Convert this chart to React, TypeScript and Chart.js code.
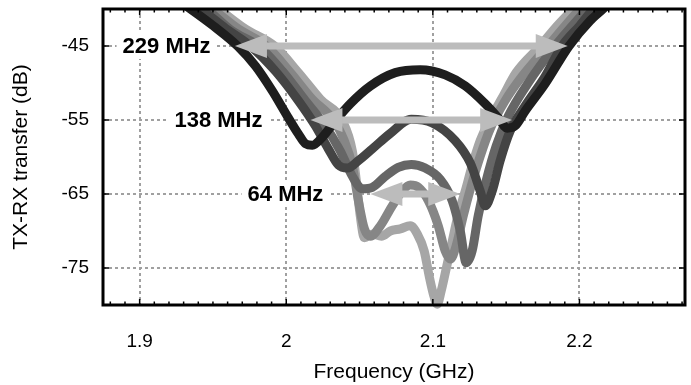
import React, { useEffect, useRef } from 'react';
import { Chart, registerables } from 'chart.js';

Chart.register(...registerables);

// Axes
const xMin = 1.875;
const xMax = 2.272;
const yMin = -80;
const yMax = -40;
const xTicks = [1.9, 2.0, 2.1, 2.2];
const yTicks = [-45, -55, -65, -75];

// Series (frequency GHz, transfer dB)
const series1: [number, number][] = [
  [1.9266, -38.9], [1.9347, -40.0], [1.9504, -42.3], [1.9668, -45.0], [1.979, -47.7],
  [1.9906, -51.1], [2.0008, -54.5], [2.0083, -56.9], [2.0131, -58.2], [2.0178, -58.4],
  [2.0247, -57.3], [2.0335, -55.1], [2.0437, -52.8], [2.0574, -50.4], [2.0744, -48.6],
  [2.0914, -48.2], [2.1084, -48.9], [2.1221, -50.4], [2.1357, -52.8], [2.1446, -54.7],
  [2.1507, -56.1], [2.1561, -55.8], [2.1629, -53.8], [2.1766, -50.1], [2.1929, -45.0],
  [2.2072, -41.6], [2.2161, -40.0], [2.2222, -38.9],
];
const series2: [number, number][] = [
  [1.9334, -38.9], [1.9416, -40.0], [1.9586, -42.6], [1.9756, -45.0], [1.9926, -48.4],
  [2.0083, -52.4], [2.0199, -55.8], [2.0287, -58.9], [2.0356, -61.1], [2.0417, -61.5],
  [2.0492, -60.5], [2.0587, -58.9], [2.071, -56.8], [2.0853, -54.9], [2.0996, -55.4],
  [2.1153, -57.8], [2.1255, -60.8], [2.1323, -64.6], [2.1357, -66.6], [2.1405, -64.6],
  [2.1459, -60.5], [2.1527, -56.5], [2.1629, -53.1], [2.1766, -49.1], [2.1881, -45.0],
  [2.2004, -42.2], [2.2093, -40.0], [2.214, -38.9],
];
const series3: [number, number][] = [
  [1.9375, -38.9], [1.9456, -40.0], [1.9634, -43.0], [1.9811, -45.0], [1.9974, -48.4],
  [2.0131, -52.4], [2.0267, -55.8], [2.0369, -59.2], [2.0451, -62.6], [2.0519, -64.3],
  [2.0587, -64.1], [2.0676, -62.6], [2.0764, -61.4], [2.0853, -61.0], [2.0948, -61.5],
  [2.105, -63.0], [2.1132, -65.9], [2.1187, -70.0], [2.1228, -74.3], [2.1268, -72.7],
  [2.1309, -68.0], [2.1364, -63.2], [2.1432, -58.5], [2.1514, -54.5], [2.165, -50.0],
  [2.1834, -45.0], [2.195, -42.3], [2.2052, -40.0], [2.2099, -38.9],
];
const series4: [number, number][] = [
  [1.9416, -38.9], [1.9497, -40.0], [1.9674, -42.7], [1.9865, -45.0], [2.0029, -48.6],
  [2.0178, -52.2], [2.0322, -55.0], [2.0396, -57.8], [2.0451, -61.2], [2.0492, -65.9],
  [2.0533, -69.7], [2.0574, -70.7], [2.0642, -69.3], [2.0723, -66.6], [2.0792, -64.6],
  [2.0846, -63.8], [2.0901, -64.1], [2.0969, -65.9], [2.1037, -69.3], [2.1084, -72.7],
  [2.1119, -73.8], [2.1159, -72.0], [2.1207, -68.0], [2.1262, -63.9], [2.1323, -59.9],
  [2.1391, -56.2], [2.1493, -52.4], [2.1609, -49.1], [2.1786, -45.0], [2.1902, -42.3],
  [2.2004, -40.0], [2.2059, -38.9],
];
const series5: [number, number][] = [
  [1.9456, -38.9], [1.9538, -40.0], [1.9722, -42.7], [1.992, -45.0], [2.0083, -48.6],
  [2.0233, -52.2], [2.039, -55.4], [2.0451, -59.2], [2.0478, -63.2], [2.0505, -68.0],
  [2.0533, -70.9], [2.0587, -70.4], [2.0649, -70.7], [2.071, -70.0], [2.0778, -69.7],
  [2.0846, -69.3], [2.0894, -70.4], [2.0941, -72.7], [2.0975, -76.1], [2.1003, -78.5],
  [2.103, -79.9], [2.1057, -78.1], [2.1091, -75.1], [2.1132, -71.4], [2.1173, -67.8],
  [2.1221, -64.6], [2.1268, -61.2], [2.1323, -57.8], [2.1391, -54.9], [2.1473, -52.0],
  [2.1568, -48.6], [2.1732, -45.0], [2.1847, -42.3], [2.1956, -40.0], [2.2004, -38.9],
];
const seriesColors = ['#1e1e1e', '#444444', '#666666', '#868686', '#a6a6a6'];

// Bandwidth annotations
const bwLabels = ['229 MHz', '138 MHz', '64 MHz'];
const bwLevels = [-45, -55, -65];
const bwStart = [1.965, 2.0165, 2.0574];
const bwEnd = [2.192, 2.1541, 2.1187];
const bwLabelRight = [1.9484, 1.9838, 2.0253];

const FONT = "'Liberation Sans', Arial, Helvetica, sans-serif";

const overlayPlugin = {
  id: 'overlay',
  beforeDatasetsDraw(chart: any) {
    const { ctx, scales } = chart;
    const xs = scales.x, ys = scales.y;
    ctx.save();
    ctx.font = `bold 22px ${FONT}`;
    ctx.textAlign = 'right';
    ctx.textBaseline = 'middle';
    bwLabels.forEach((t, i) => {
      const xr = xs.getPixelForValue(bwLabelRight[i]);
      const yc = ys.getPixelForValue(bwLevels[i]);
      const w = ctx.measureText(t).width;
      ctx.fillStyle = '#ffffff';
      ctx.fillRect(xr - w - 6, yc - 13, w + 12, 26);
      ctx.fillStyle = '#000000';
      ctx.fillText(t, xr, yc + 1);
    });
    ctx.restore();
  },
  afterDatasetsDraw(chart: any) {
    const { ctx, scales } = chart;
    const xs = scales.x, ys = scales.y;
    const headL = 32, headW = 12, shaft = 7;
    ctx.save();
    ctx.fillStyle = '#bcbcbc';
    bwLevels.forEach((lv, i) => {
      const x1 = xs.getPixelForValue(bwStart[i]);
      const x2 = xs.getPixelForValue(bwEnd[i]);
      const y = ys.getPixelForValue(lv);
      ctx.fillRect(x1 + headL - 2, y - shaft / 2, x2 - x1 - 2 * headL + 4, shaft);
      ctx.beginPath();
      ctx.moveTo(x1, y);
      ctx.lineTo(x1 + headL, y - headW);
      ctx.lineTo(x1 + headL, y + headW);
      ctx.closePath();
      ctx.fill();
      ctx.beginPath();
      ctx.moveTo(x2, y);
      ctx.lineTo(x2 - headL, y - headW);
      ctx.lineTo(x2 - headL, y + headW);
      ctx.closePath();
      ctx.fill();
    });
    ctx.restore();
  },
  afterDraw(chart: any) {
    const { ctx, chartArea, scales } = chart;
    const { left, right, top, bottom } = chartArea;
    const xs = scales.x, ys = scales.y;
    ctx.save();
    ctx.strokeStyle = '#000000';
    ctx.lineWidth = 1.5;
    ctx.beginPath();
    for (let k = Math.ceil(xMin * 100); k <= Math.floor(xMax * 100); k++) {
      const v = k / 100;
      const px = xs.getPixelForValue(v);
      const len = k % 10 === 0 ? 6 : 3.5;
      ctx.moveTo(px, bottom);
      ctx.lineTo(px, bottom - len);
      ctx.moveTo(px, top);
      ctx.lineTo(px, top + len);
    }
    yTicks.forEach((v) => {
      const py = ys.getPixelForValue(v);
      ctx.moveTo(left, py);
      ctx.lineTo(left + 6, py);
      ctx.moveTo(right, py);
      ctx.lineTo(right - 6, py);
    });
    ctx.stroke();
    ctx.lineWidth = 3;
    ctx.strokeRect(left, top, right - left, bottom - top);
    ctx.restore();
  },
};

export default function App() {
  const ref = useRef<HTMLCanvasElement>(null);
  useEffect(() => {
    const all = [series1, series2, series3, series4, series5];
    const chart = new Chart(ref.current as HTMLCanvasElement, {
      type: 'line',
      data: {
        datasets: all.map((s, i) => ({
          data: s.map(([x, y]) => ({ x, y })),
          borderColor: seriesColors[i],
          backgroundColor: seriesColors[i],
          borderWidth: 9,
          pointRadius: 0,
          borderCapStyle: 'round',
          borderJoinStyle: 'round',
          cubicInterpolationMode: 'monotone',
          tension: 0.4,
          fill: false,
          clip: { left: 0, top: 0, right: 0, bottom: 5 },
        })) as any,
      },
      options: {
        responsive: false,
        animation: false,
        events: [],
        layout: { padding: { left: 0, right: 6, top: 9, bottom: 0 } },
        plugins: { legend: { display: false }, tooltip: { enabled: false } },
        scales: {
          x: {
            type: 'linear',
            min: xMin,
            max: xMax,
            afterBuildTicks: (s: any) => {
              s.ticks = xTicks.map((v) => ({ value: v }));
            },
            afterFit: (s: any) => {
              s.height = 80;
              s.paddingLeft = 0;
              s.paddingRight = 0;
            },
            grid: { color: '#a0a0a0', lineWidth: 2, drawTicks: false },
            border: { display: false, dash: [3, 3] },
            ticks: {
              padding: 25,
              color: '#000',
              font: { family: FONT, size: 19 },
              callback: (v: any) => String(Math.round(Number(v) * 10) / 10),
            },
            title: {
              display: true,
              text: 'Frequency (GHz)',
              color: '#000',
              font: { family: FONT, size: 21 },
              padding: { top: 0, bottom: 0 },
            },
          },
          y: {
            type: 'linear',
            min: yMin,
            max: yMax,
            afterBuildTicks: (s: any) => {
              s.ticks = yTicks.map((v) => ({ value: v }));
            },
            afterFit: (s: any) => {
              s.width = 103;
              s.paddingTop = 0;
              s.paddingBottom = 0;
            },
            grid: { color: '#a0a0a0', lineWidth: 2, drawTicks: false },
            border: { display: false, dash: [3, 3] },
            ticks: {
              padding: 14,
              color: '#000',
              font: { family: FONT, size: 19 },
            },
            title: {
              display: true,
              text: 'TX-RX transfer (dB)',
              color: '#000',
              font: { family: FONT, size: 21 },
              padding: { top: 9, bottom: 0 },
            },
          },
        },
      } as any,
      plugins: [overlayPlugin as any],
    });
    return () => chart.destroy();
  }, []);
  return (
    <div style={{ position: 'absolute', left: 0, top: 0, width: 691, height: 385, background: '#fff' }}>
      <canvas ref={ref} width={691} height={385} style={{ display: 'block' }} />
    </div>
  );
}
